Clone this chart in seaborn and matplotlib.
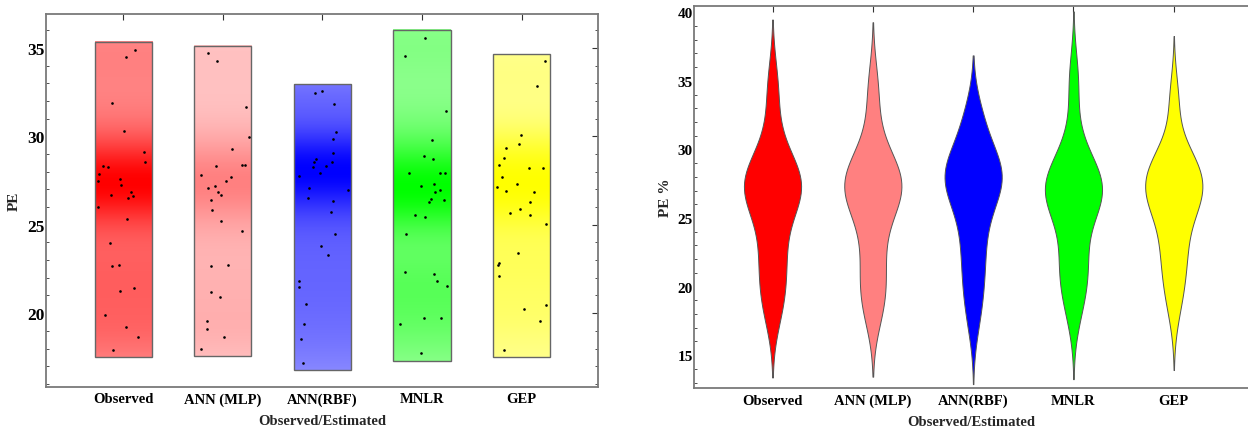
import numpy as np
import pandas as pd
import matplotlib
matplotlib.use("Agg")
import matplotlib.pyplot as plt
import seaborn as sns
from matplotlib.colors import to_rgb

# ---------------- data ----------------
categories = ["Observed", "ANN (MLP)", "ANN(RBF)", "MNLR", "GEP"]

observed = [34.47, 34.91, 31.87, 30.31, 29.14, 28.56, 28.33, 28.24, 27.88,
            27.59, 27.50, 27.27, 26.88, 26.69, 26.63, 26.50, 25.99, 25.31,
            23.97, 22.75, 22.68, 21.40, 21.28, 19.89, 19.21, 18.63, 17.93]
ann_mlp = [34.72, 34.28, 31.65, 29.97, 29.27, 28.39, 28.39, 28.31, 27.82,
           27.71, 27.50, 27.18, 27.09, 26.88, 26.67, 26.41, 25.86, 25.24,
           24.62, 22.75, 22.64, 21.17, 20.94, 19.53, 19.08, 18.63, 17.98]
ann_rbf = [32.55, 32.46, 31.83, 30.27, 29.86, 29.05, 28.73, 28.56, 28.56,
           28.33, 28.24, 27.95, 27.78, 27.09, 26.99, 26.54, 26.35, 25.73,
           24.49, 23.81, 23.30, 21.83, 21.49, 20.53, 19.38, 18.55, 17.19]
mnlr = [35.57, 34.57, 31.46, 29.82, 28.91, 28.73, 27.95, 27.91, 27.91,
        27.33, 27.18, 26.99, 26.88, 26.45, 26.41, 26.28, 25.58, 25.45,
        24.49, 22.30, 22.21, 21.83, 21.53, 19.74, 19.70, 19.38, 17.74]
gep = [34.25, 32.87, 30.08, 29.59, 29.35, 28.78, 28.40, 28.22, 28.22,
       27.71, 27.33, 27.14, 26.90, 26.88, 26.31, 25.90, 25.67, 25.58,
       25.07, 23.43, 22.85, 22.70, 22.13, 20.49, 20.26, 19.57, 17.93]

colors = ["#ff0000", "#ff8080", "#0000ff", "#00ff00", "#ffff00"]

series = [observed, ann_mlp, ann_rbf, mnlr, gep]
df = pd.DataFrame({
    "model": np.repeat(categories, [len(s) for s in series]),
    "PE": np.concatenate(series),
})

# ---------------- style ----------------
sns.set_theme(style="white")
plt.rcParams["font.family"] = ["Liberation Serif", "DejaVu Serif"]
plt.rcParams["font.weight"] = "bold"
plt.rcParams["axes.labelweight"] = "bold"

FS = 10.5
SPINE = "#7a7a7a"

fig = plt.figure(figsize=(12.48, 4.35), dpi=100)
ax1 = fig.add_axes([0.0366, 0.1087, 0.4428, 0.8568])
ax2 = fig.add_axes([0.5563, 0.1057, 0.4437, 0.8789])

def kde(vals, grid):
    v = np.asarray(vals)
    bw = 1.06 * v.std(ddof=1) * len(v) ** (-0.2) * 0.6
    d = np.exp(-0.5 * ((grid[:, None] - v[None, :]) / bw) ** 2).sum(axis=1)
    return d / d.max()

# ---------------- left panel: density-shaded rectangles with points ----------------
half = 0.287
for i, (vals, col) in enumerate(zip(series, colors)):
    lo, hi = min(vals), max(vals)
    pad = 0.025 * (hi - lo)
    y0, y1 = lo - pad, hi + pad
    grid = np.linspace(y0, y1, 300)
    dens = kde(vals, grid)
    t = 0.38 + 0.62 * dens
    base = np.array(to_rgb(col))
    rgb = base[None, :] * t[:, None] + (1 - t[:, None]) * np.ones(3)[None, :]
    img = rgb[:, None, :]
    ax1.imshow(img, extent=(i - half, i + half, y0, y1), origin="lower",
               aspect="auto", interpolation="bilinear", zorder=1)
    ax1.add_patch(plt.Rectangle((i - half, y0), 2 * half, y1 - y0, fill=False,
                                edgecolor="#666666", linewidth=1.0, zorder=2))

np.random.seed(3)
sns.stripplot(data=df, x="model", y="PE", order=categories, color="black",
              jitter=0.27, size=1.9, linewidth=0, ax=ax1, zorder=3)

ax1.set_xlim(-0.78, 4.77)
ax1.set_ylim(15.84, 36.92)
ax1.set_yticks([20, 25, 30, 35])
ax1.set_yticks(np.arange(16, 37, 1), minor=True)
ax1.set_xlabel("Observed/Estimated", fontsize=FS, fontweight="bold", labelpad=6)
ax1.set_ylabel("PE", fontsize=11, fontweight="bold", labelpad=5)
ax1.tick_params(axis="both", which="both", direction="in", colors="#333333",
                labelcolor="black")
ax1.tick_params(axis="x", labelsize=FS)
ax1.tick_params(axis="y", labelsize=12.5)
ax1.tick_params(axis="y", which="major", length=4, width=0.8, pad=0.5, right=True)
ax1.tick_params(axis="y", which="minor", length=2, width=0.6, left=True, right=True)
ax1.tick_params(axis="x", which="major", length=4, width=0.8, pad=4, top=True)
for s in ax1.spines.values():
    s.set_color(SPINE)
    s.set_linewidth(1.3)

# ---------------- right panel: violins ----------------
sns.violinplot(data=df, x="model", y="PE", order=categories, hue="model",
               hue_order=categories, palette=colors, legend=False,
               width=0.57, density_norm="width", inner=None,
               bw_adjust=0.9, cut=2.2,
               linewidth=0.7, linecolor="#555555", saturation=1, ax=ax2)

ax2.set_xlim(-0.78, 4.74)
ax2.set_ylim(12.6, 40.48)
ax2.set_yticks([15, 20, 25, 30, 35, 40])
ax2.set_yticks(np.arange(13, 41, 1), minor=True)
ax2.set_xlabel("Observed/Estimated", fontsize=FS, fontweight="bold", labelpad=6)
ax2.set_ylabel("PE %", fontsize=11, fontweight="bold", labelpad=4)
ax2.tick_params(axis="both", which="both", direction="in", colors="#333333",
                labelcolor="black", labelsize=FS)
ax2.tick_params(axis="y", labelsize=11)
ax2.tick_params(axis="y", which="major", length=4, width=0.8, pad=1)
ax2.tick_params(axis="y", which="minor", length=2, width=0.6, left=True)
ax2.tick_params(axis="x", which="major", length=4, width=0.8, pad=4, top=True)
for s in ax2.spines.values():
    s.set_color(SPINE)
    s.set_linewidth(1.3)
ax2.spines["right"].set_visible(False)

for ax in (ax1, ax2):
    for lab in ax.get_xticklabels() + ax.get_yticklabels():
        lab.set_fontweight("bold")

fig.savefig("out.png", dpi=100)
